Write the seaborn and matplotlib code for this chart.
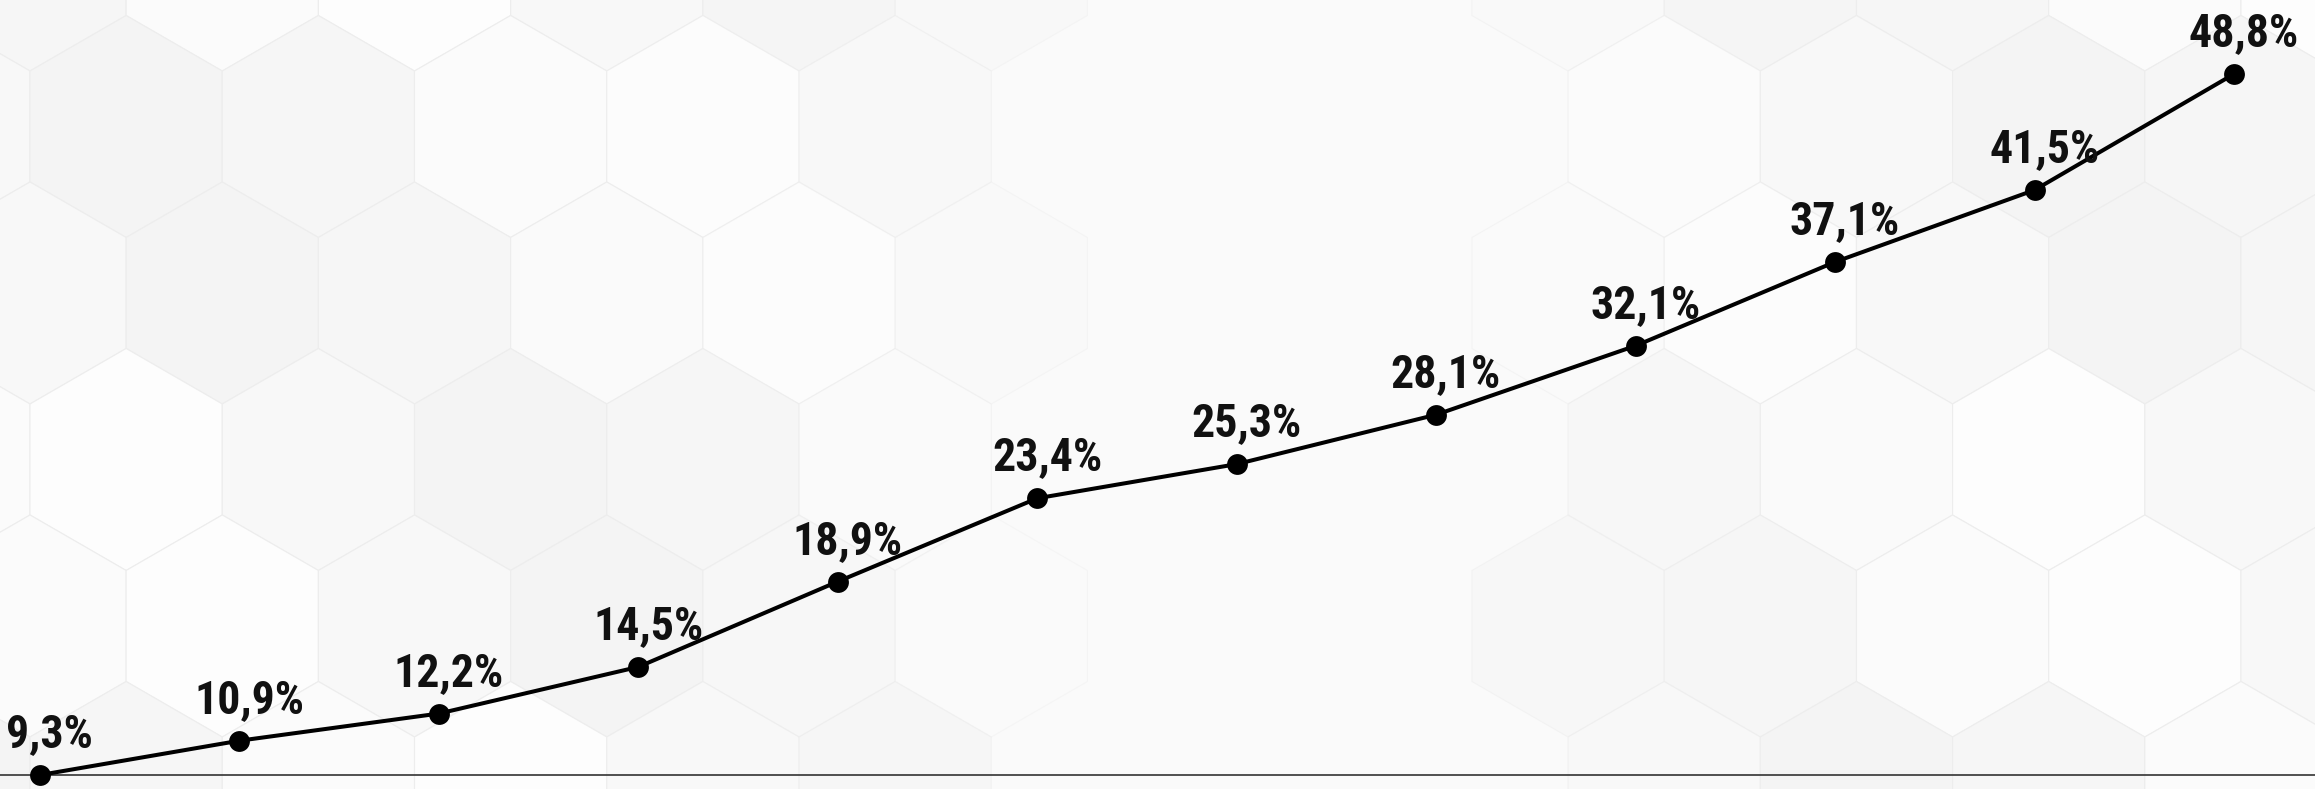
import matplotlib
matplotlib.use("Agg")
import matplotlib.pyplot as plt
from matplotlib import font_manager
from matplotlib.patches import RegularPolygon
import numpy as np
import pandas as pd
import seaborn as sns

# Данные графика
periods = list(range(12))
values = [9.3, 10.9, 12.2, 14.5, 18.9, 23.4, 25.3, 28.1, 32.1, 37.1, 41.5, 48.8]
labels = [f"{v:.1f}%".replace(".", ",") for v in values]

sns.set_theme(style="white")

# Узкий жирный шрифт, если есть
installed = {f.name for f in font_manager.fontManager.ttflist}
family = ["DejaVu Sans"]
for name in ["Liberation Sans Narrow", "DejaVu Sans Condensed", "Roboto Condensed"]:
    if name in installed:
        family = [name, "DejaVu Sans"]
        break
plt.rcParams["font.family"] = family

W, H, DPI = 2315, 789, 100
fig = plt.figure(figsize=(W / DPI, H / DPI), dpi=DPI)
fig.patch.set_facecolor("#fafafa")

# Фон: светлые шестиугольники
bg = fig.add_axes([0, 0, 1, 1], zorder=0)
bg.set_xlim(0, W)
bg.set_ylim(H, 0)
bg.axis("off")
R = 111
hw = np.sqrt(3) * R
shades = ["#f6f6f6", "#fdfdfd", "#f4f4f4", "#fbfbfb", "#f8f8f8"]
for row in range(-1, 7):
    for col in range(-1, 14):
        cx = col * hw + (hw / 2 if row % 2 else 0) + 30
        cy = row * 1.5 * R - 40
        fade = min(1.0, abs(cx - 1250) / 650)
        if fade < 0.35:
            continue
        c = shades[(col * 3 + row * 2) % len(shades)]
        bg.add_patch(RegularPolygon((cx, cy), 6, radius=R, orientation=0,
                                    facecolor=c, edgecolor="#ededed",
                                    linewidth=0.8, alpha=fade))

# Основной график
ax = fig.add_axes([0, 0, 1, 1], zorder=1)
ax.patch.set_alpha(0)
df = pd.DataFrame({"period": periods, "value": values})
sns.lineplot(data=df, x="period", y="value", ax=ax, color="black",
             linewidth=2.9, marker="o", markersize=15, markeredgewidth=0)
ax.axhline(values[0], color="#333333", linewidth=1.2, zorder=0)

for x, v, lab in zip(periods, values, labels):
    ax.annotate(lab, (x, v), xytext=(7, 20), textcoords="offset points",
                ha="center", va="baseline", fontsize=33, fontweight="bold",
                color="#111111")

# Степенная шкала по оси Y (как в оригинале, середина чуть выше)
p = 0.8
ax.set_yscale("function", functions=(lambda v: np.power(np.clip(v, 0, None), p),
                                     lambda t: np.power(np.clip(t, 0, None), 1 / p)))
t1, t2 = values[0] ** p, values[-1] ** p
k = 701 / (t2 - t1)
ax.set_ylim((t1 - 14 / k) ** (1 / p), (t2 + 74 / k) ** (1 / p))
ax.set_xlim(-0.2006, 11.406)
ax.axis("off")

fig.savefig("out.png", dpi=DPI)
